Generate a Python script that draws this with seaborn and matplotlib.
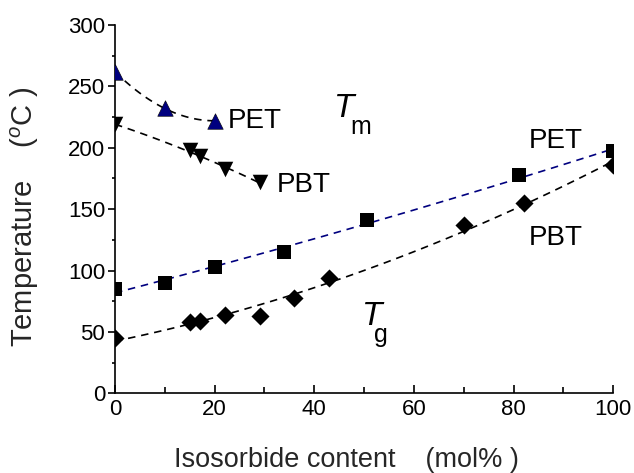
import numpy as np
import pandas as pd
import matplotlib
matplotlib.use("Agg")
import matplotlib.pyplot as plt
from matplotlib.ticker import MultipleLocator
import seaborn as sns

# Melting temperatures (Tm)
pet_tm_x = [0, 10, 20]
pet_tm_y = [262, 232, 222]
pbt_tm_x = [0, 15, 17, 22, 29]
pbt_tm_y = [219, 198, 193, 183, 172]

# Glass transition temperatures (Tg)
pet_tg_x = [0, 10, 20, 34, 50.5, 81, 100]
pet_tg_y = [85, 90, 103, 115, 141, 178, 197]
pbt_tg_x = [0, 15, 17, 22, 29, 36, 43, 70, 82, 100]
pbt_tg_y = [45, 58, 59, 64, 63, 78, 94, 137, 155, 186]

x_ticks = [0, 20, 40, 60, 80, 100]
y_ticks = [0, 50, 100, 150, 200, 250, 300]

sns.set_theme(style="ticks")
plt.rcParams["font.family"] = ["Liberation Sans", "DejaVu Sans"]
plt.rcParams["mathtext.fontset"] = "custom"
plt.rcParams["mathtext.rm"] = "Liberation Sans"
plt.rcParams["mathtext.it"] = "Liberation Sans:italic"

NAVY = "#00007f"
fig = plt.figure(figsize=(6.34, 4.73), dpi=100)
ax = fig.add_axes([0.1814, 0.1685, 0.7859, 0.7786])

dash = (0, (4.5, 3.5))
fits = [
    (pet_tm_x, pet_tm_y, "black"),
    (pbt_tm_x, pbt_tm_y, "black"),
    (pet_tg_x, pet_tg_y, NAVY),
    (pbt_tg_x, pbt_tg_y, "black"),
]
for xs, ys, col in fits:
    sns.regplot(x=np.array(xs, float), y=np.array(ys, float), order=2, ci=None,
                scatter=False, truncate=True, ax=ax,
                line_kws=dict(color=col, lw=1.2, linestyle=dash))

sns.scatterplot(x=pet_tm_x, y=pet_tm_y, marker="^", s=125, color=NAVY,
                edgecolor="black", linewidth=0.4, ax=ax, zorder=5)
sns.scatterplot(x=pbt_tm_x, y=pbt_tm_y, marker="v", s=125, color="black",
                linewidth=0, ax=ax, zorder=5)
sns.scatterplot(x=pet_tg_x, y=pet_tg_y, marker="s", s=90, color="black",
                linewidth=0, ax=ax, zorder=5)
sns.scatterplot(x=pbt_tg_x, y=pbt_tg_y, marker="D", s=85, color="black",
                linewidth=0, ax=ax, zorder=5)

ax.set_xlim(0, 100)
ax.set_ylim(0, 300)
ax.set_xticks(x_ticks)
ax.set_yticks(y_ticks)
ax.xaxis.set_minor_locator(MultipleLocator(10))
ax.yaxis.set_minor_locator(MultipleLocator(25))
ax.tick_params(axis="x", which="both", direction="in", labelsize=16, pad=4,
               width=1.2, color="black", labelcolor="black")
ax.tick_params(axis="x", which="major", length=6)
ax.tick_params(axis="x", which="minor", length=4.5)
ax.tick_params(axis="y", which="both", direction="out", labelsize=16, pad=2,
               width=1.2, color="black", labelcolor="black")
ax.tick_params(axis="y", which="major", length=5)
ax.tick_params(axis="y", which="minor", length=2.5)
for side in ("top", "right"):
    ax.spines[side].set_visible(False)
for side in ("left", "bottom"):
    ax.spines[side].set_linewidth(1.2)
    ax.spines[side].set_color("black")

ax.set_xlabel("Isosorbide content    (mol% )", fontsize=19.5)
ax.set_ylabel("Temperature    ($^{o}$C )", fontsize=21)
ax.xaxis.set_label_coords(0.464, -0.146)
ax.yaxis.set_label_coords(-0.148, 0.48)

txt = dict(fontsize=20, color="black")
ax.text(22.7, 216, "PET", **txt)
ax.text(32.5, 164, "PBT", **txt)
ax.text(83, 200, "PET", **txt)
ax.text(83, 121, "PBT", **txt)
ax.text(44.0, 225, "T", fontsize=24, style="italic", color="black")
ax.text(47.2, 211, "m", fontsize=18, color="black")
ax.text(49.6, 55.6, "T", fontsize=24, style="italic", color="black")
ax.text(52.0, 41.5, "g", fontsize=18, color="black")

fig.savefig("out.png", dpi=100)
